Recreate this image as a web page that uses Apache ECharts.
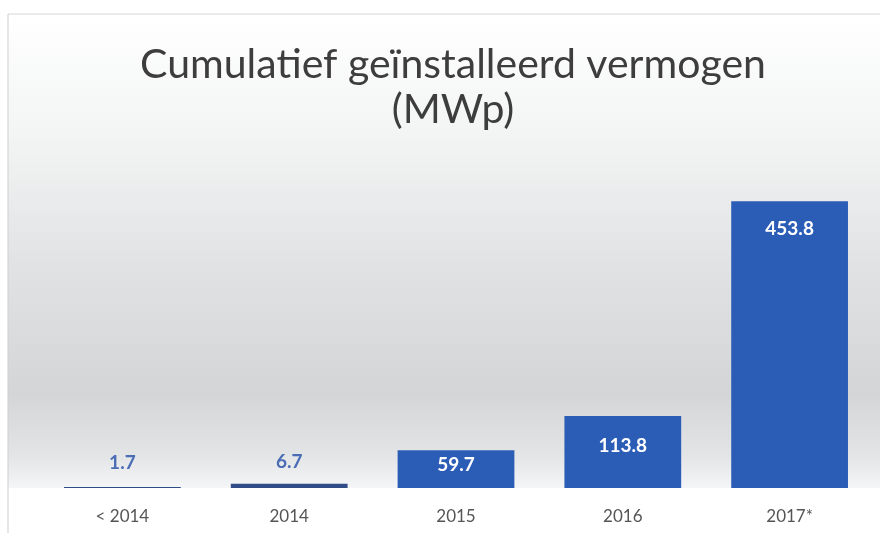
<!DOCTYPE html>
<html><head><meta charset="utf-8">
<script src="https://cdn.jsdelivr.net/npm/echarts@6/dist/echarts.min.js"></script>
<style>html,body{margin:0;padding:0;background:#fff}#c{width:880px;height:533px}</style>
</head><body><div id="c"></div>
<script>
const categories = ['< 2014', '2014', '2015', '2016', '2017*'];
const values = [1.7, 6.7, 59.7, 113.8, 453.8];
const titleText = 'Cumulatief geïnstalleerd vermogen\n(MWp)';

const chart = echarts.init(document.getElementById('c'));
const FONT = 'Lato, "Open Sans", sans-serif';
const labelPlacement = [
  { position: 'top', distance: 15, color: '#4A6DB6' },
  { position: 'top', distance: 12, color: '#4A6DB6' },
  { position: 'insideTop', distance: 5, color: '#ffffff' },
  { position: 'insideTop', distance: 20, color: '#ffffff' },
  { position: 'insideTop', distance: 18, color: '#ffffff' }
];
const data = values.map(function (v, i) {
  return {
    value: v,
    itemStyle: { color: v < 20 ? '#2F4C86' : '#2C5DB6' },
    label: labelPlacement[i]
  };
});

chart.setOption({
  backgroundColor: '#ffffff',
  graphic: [
    {
      type: 'rect', z: -10, silent: true,
      shape: { x: 8, y: 14, width: 880, height: 474 },
      style: {
        fill: new echarts.graphic.LinearGradient(0, 0, 0, 1, [
          { offset: 0, color: '#ffffff' },
          { offset: 0.25, color: '#f3f4f4' },
          { offset: 0.55, color: '#e0e1e2' },
          { offset: 0.8, color: '#d3d5d7' },
          { offset: 0.93, color: '#e2e4e6' },
          { offset: 1, color: '#f4f5f6' }
        ]),
        stroke: null
      }
    },
    {
      type: 'line', z: -9, silent: true,
      shape: { x1: 8, y1: 14, x2: 880, y2: 14 },
      style: { stroke: '#d6d6d6', lineWidth: 1 }
    },
    {
      type: 'line', z: -9, silent: true,
      shape: { x1: 8, y1: 14, x2: 8, y2: 533 },
      style: { stroke: '#cfcfcf', lineWidth: 1 }
    }
  ],
  title: {
    text: titleText,
    left: 448,
    textAlign: 'center',
    top: 37,
    textStyle: {
      fontFamily: FONT, fontSize: 41, fontWeight: 'normal',
      color: '#3d3d3d', lineHeight: 45
    }
  },
  grid: { left: 39, right: 7, top: 172, bottom: 45 },
  xAxis: {
    type: 'category',
    data: categories,
    axisLine: { show: false },
    axisTick: { show: false },
    axisLabel: {
      fontFamily: FONT, fontSize: 17, color: '#555555', margin: 20
    }
  },
  yAxis: {
    type: 'value', min: 0, max: 500, show: false,
    splitLine: { show: false }
  },
  series: [{
    type: 'bar',
    data: data,
    barWidth: '70%',
    label: {
      show: true,
      fontFamily: FONT, fontSize: 19, fontWeight: 'bold',
      formatter: function (p) { return p.value.toFixed(1); }
    }
  }]
});
</script></body></html>
